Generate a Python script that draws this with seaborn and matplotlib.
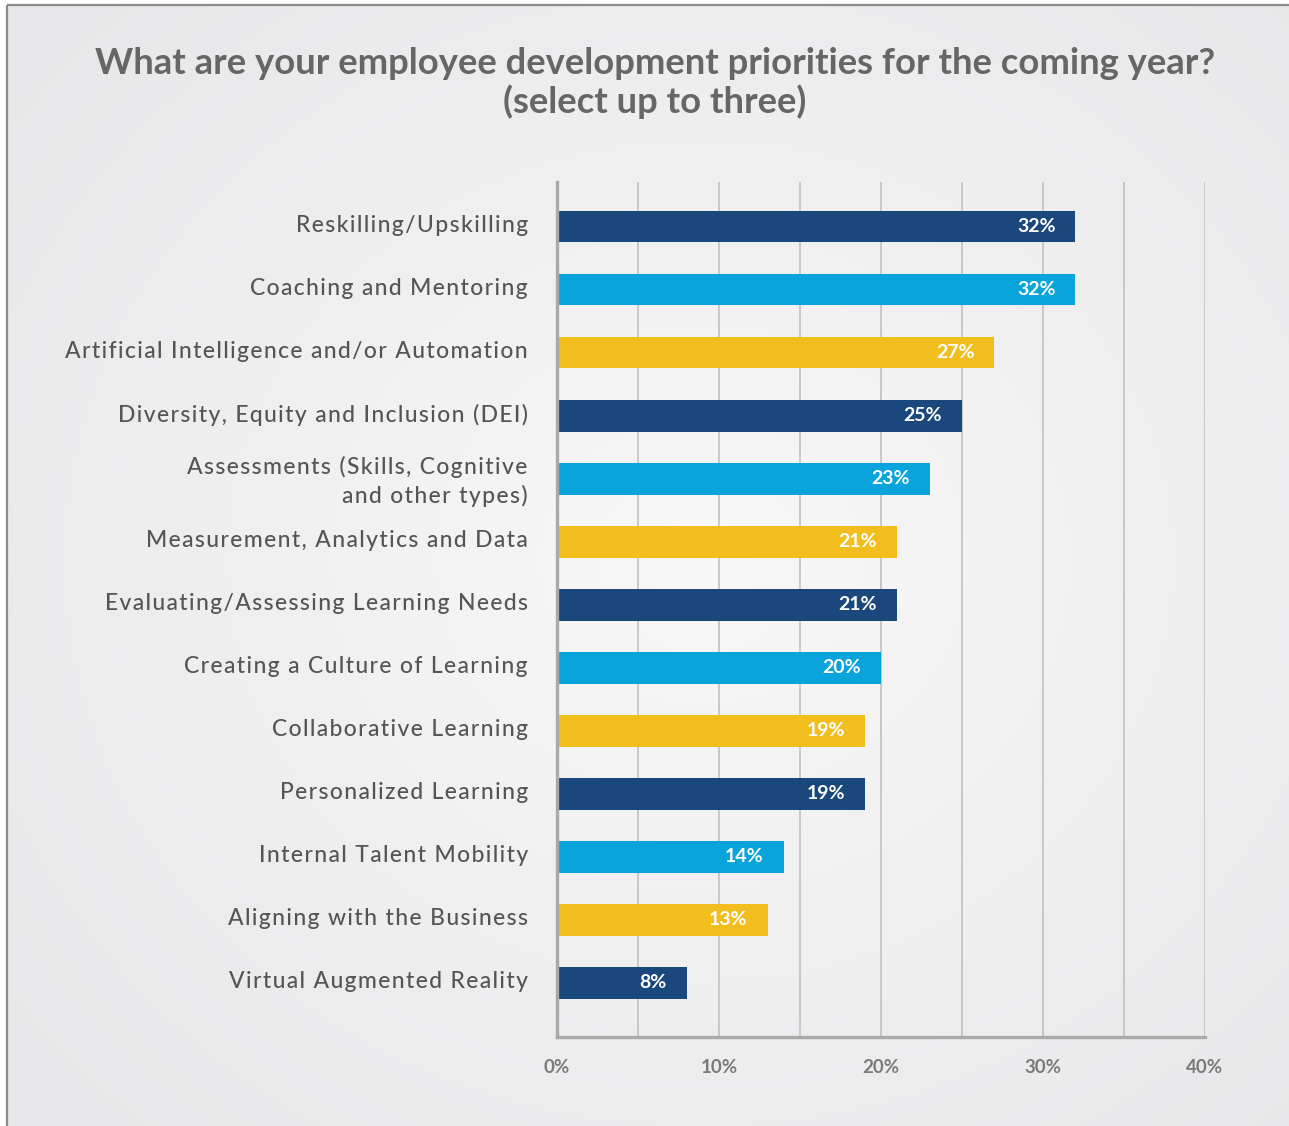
import numpy as np
import pandas as pd
import matplotlib
matplotlib.use("Agg")
import matplotlib.pyplot as plt
import matplotlib.transforms as mtransforms
from matplotlib.patches import Rectangle
import seaborn as sns

categories = [
    "Reskilling/Upskilling",
    "Coaching and Mentoring",
    "Artificial Intelligence and/or Automation",
    "Diversity, Equity and Inclusion (DEI)",
    "Assessments (Skills, Cognitive\nand other types)",
    "Measurement, Analytics and Data",
    "Evaluating/Assessing Learning Needs",
    "Creating a Culture of Learning",
    "Collaborative Learning",
    "Personalized Learning",
    "Internal Talent Mobility",
    "Aligning with the Business",
    "Virtual Augmented Reality",
]
values = [32, 32, 27, 25, 23, 21, 21, 20, 19, 19, 14, 13, 8]
cycle_colors = ["#1a477c", "#0aa4dc", "#f2be1d"]
tick_values = [0, 10, 20, 30, 40]
tick_labels = ["0%", "10%", "20%", "30%", "40%"]
title = "What are your employee development priorities for the coming year?\n(select up to three)"

bar_colors = [cycle_colors[i % 3] for i in range(len(categories))]
df = pd.DataFrame({"category": categories, "value": values})


def tracked(s):
    """Open up letter spacing with hair spaces between characters."""
    return "\n".join("\u200a".join(line) for line in s.split("\n"))


sns.set_theme(style="white")
plt.rcParams["font.family"] = ["Lato", "DejaVu Sans"]

W, H = 1289, 1126
fig = plt.figure(figsize=(W / 100, H / 100), dpi=100)
fig.patch.set_facecolor("white")

# soft radial background inside the frame
bg = fig.add_axes([0, 0, 1, 1], zorder=-2)
yy, xx = np.mgrid[0:H, 0:W]
r = np.sqrt(((xx - 700) / 900.0) ** 2 + ((yy - 560) / 800.0) ** 2)
r = np.clip(r, 0, 1)
c0 = np.array([248, 248, 248]) / 255.0
c1 = np.array([231, 231, 233]) / 255.0
img = c0[None, None, :] * (1 - r[..., None]) + c1[None, None, :] * r[..., None]
img[:5, :, :] = 1.0
img[:, :7, :] = 1.0
bg.imshow(img, extent=[0, W, H, 0], aspect="auto", interpolation="bilinear")
bg.add_patch(Rectangle((7, 5), W + 20, H + 20, fill=False, ec="#8a8a8a", lw=1.6))
bg.set_xlim(0, W)
bg.set_ylim(H, 0)
bg.axis("off")

ax = fig.add_axes([557 / W, 1 - 1037 / H, (1205 - 557) / W, (1037 - 182) / H])
ax.patch.set_alpha(0)
sns.barplot(data=df, x="value", y="category", hue="category", palette=bar_colors,
            legend=False, width=0.5, saturation=1, linewidth=0, ax=ax, zorder=3)

ax.set_xlim(0, 40)
ax.set_ylim(len(categories) - 1 + 0.86, -0.71)
ax.set_xticks(tick_values)
ax.set_xticklabels(tick_labels)
ax.set_xticks(np.arange(5, 40, 10), minor=True)
ax.grid(True, axis="x", which="both", color="#bdbdbd", lw=1.1, zorder=0)
ax.set_axisbelow(True)
ax.set_xlabel("")
ax.set_ylabel("")
for s in ["top", "right"]:
    ax.spines[s].set_visible(False)
for s in ["left", "bottom"]:
    ax.spines[s].set_color("#a9a9a9")
    ax.spines[s].set_linewidth(2.4)
    ax.spines[s].set_zorder(4)
ax.tick_params(axis="x", which="both", length=0, pad=16, labelsize=13.5,
               labelcolor="#7a7a7a")
for t in ax.get_xticklabels():
    t.set_fontweight("bold")
ax.set_yticks(range(len(categories)))
ax.set_yticklabels([tracked(c) for c in categories])
ax.tick_params(axis="y", length=0, pad=21, labelsize=16.5, labelcolor="#555555")
for t in ax.get_yticklabels():
    t.set_fontweight("medium")
    t.set_linespacing(1.4)
    t.set_transform(t.get_transform() + mtransforms.ScaledTranslation(0, 3 / 100, fig.dpi_scale_trans))

# value labels inside the bar ends
off = mtransforms.offset_copy(ax.transData, fig=fig, x=-20, y=0, units="dots")
for i, v in enumerate(values):
    ax.text(v, i, f"{v}%", transform=off, ha="right", va="center",
            color="white", fontsize=14, fontweight="bold", zorder=5)

fig.text(655 / W, 1 - 83 / H, title, ha="center", va="center", fontsize=26.2,
         fontweight="bold", color="#666666", linespacing=1.15)

fig.savefig("out.png", dpi=100)
